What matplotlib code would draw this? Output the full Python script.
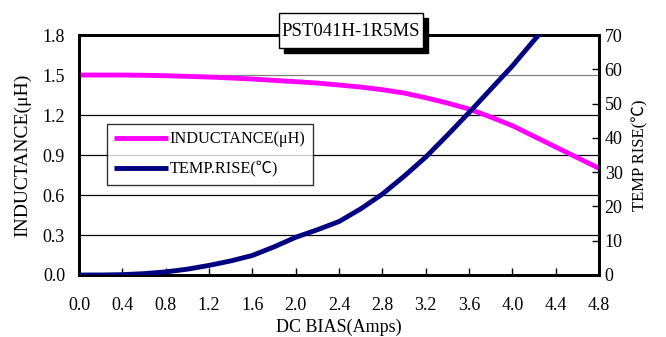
import numpy as np
import matplotlib.pyplot as plt
from matplotlib.patches import Rectangle

plt.rcParams['font.family'] = ['Liberation Serif', 'Noto Sans CJK SC']

# data
bias = [0.0, 0.2, 0.4, 0.6, 0.8, 1.0, 1.2, 1.4, 1.6, 1.8, 2.0, 2.2, 2.4,
        2.6, 2.8, 3.0, 3.2, 3.4, 3.6, 3.8, 4.0, 4.2, 4.4, 4.6, 4.8]
inductance = [1.50, 1.50, 1.50, 1.498, 1.495, 1.49, 1.485, 1.478, 1.47, 1.46,
              1.45, 1.44, 1.425, 1.41, 1.39, 1.365, 1.33, 1.29, 1.245, 1.185,
              1.12, 1.04, 0.96, 0.88, 0.80]
temp_bias = [0.0, 0.2, 0.4, 0.6, 0.8, 1.0, 1.2, 1.4, 1.6, 1.8, 2.0, 2.2, 2.4,
             2.6, 2.8, 3.0, 3.2, 3.4, 3.6, 3.8, 4.0, 4.2, 4.4]
temp_rise = [0.0, 0.0, 0.1, 0.4, 0.9, 1.7, 2.8, 4.1, 5.7, 8.2, 11.0, 13.2,
             15.6, 19.3, 23.6, 28.8, 34.4, 40.8, 47.4, 54.2, 61.0, 68.5, 75.5]
x_ticks = [0.0, 0.4, 0.8, 1.2, 1.6, 2.0, 2.4, 2.8, 3.2, 3.6, 4.0, 4.4, 4.8]
l_ticks = [0.0, 0.3, 0.6, 0.9, 1.2, 1.5, 1.8]
t_ticks = [0, 10, 20, 30, 40, 50, 60, 70]
title = 'PST041H-1R5MS'

fig = plt.figure(figsize=(6.66, 3.37), dpi=100)
ax = fig.add_axes([0.1186, 0.184, 0.781, 0.712])
ax2 = ax.twinx()

# grid lines (the 1.5 one is grey in the original)
for v in l_ticks[1:-1]:
    c = '#808080' if v == 1.5 else 'black'
    ax.axhline(v, color=c, lw=0.9, zorder=1)

l1, = ax.plot(bias, inductance, color='#ff00ff', lw=3.5, zorder=3,
              solid_capstyle='butt', solid_joinstyle='round')
l2, = ax2.plot(temp_bias, temp_rise, color='#000080', lw=3.5, zorder=3,
               solid_capstyle='butt', solid_joinstyle='round')

ax.set_xlim(0, 4.8)
ax.set_ylim(0, 1.8)
ax2.set_ylim(0, 70)
ax.set_xticks(x_ticks)
ax.set_xticklabels(['%.1f' % v for v in x_ticks])
ax.set_yticks(l_ticks)
ax.set_yticklabels(['%.1f' % v for v in l_ticks])
ax2.set_yticks(t_ticks)

ax.tick_params(axis='x', direction='in', length=5, width=1, pad=16, labelsize=13)
ax.tick_params(axis='y', length=0, pad=10, labelsize=13)
ax2.tick_params(axis='y', direction='in', length=5, width=1, pad=4, labelsize=13)

for a in (ax, ax2):
    for s in a.spines.values():
        s.set_linewidth(2)
        s.set_color('black')

ax.set_xlabel('DC BIAS(Amps)', fontsize=13, labelpad=3)
ax.set_ylabel('INDUCTANCE(μH)', fontsize=14, labelpad=8)
ax2.set_ylabel('TEMP RISE(℃)', fontsize=12, labelpad=7)

leg = ax2.legend([l1, l2], ['INDUCTANCE(μH)', 'TEMP.RISE(℃)'],
                 loc='upper left', bbox_to_anchor=(0.054, 0.629),
                 handlelength=3.3, handletextpad=0.1, labelspacing=0.85,
                 borderpad=0.45, fancybox=False, frameon=True, borderaxespad=0,
                 prop={'family': ['Liberation Serif', 'Noto Sans CJK SC'], 'size': 11.7})
leg.get_frame().set_edgecolor('black')
leg.get_frame().set_linewidth(1)
leg.set_zorder(10)

# title box with drop shadow
W, H = 666.0, 337.0
fig.patches.append(Rectangle((284 / W, 1 - 53 / H), 144 / W, 35 / H,
                             transform=fig.transFigure, fc='black', ec='black',
                             zorder=5))
fig.patches.append(Rectangle((279 / W, 1 - 48 / H), 144 / W, 35 / H,
                             transform=fig.transFigure, fc='white', ec='black',
                             lw=1, zorder=6))
fig.text(351 / W, 1 - 31 / H, title, ha='center', va='center', fontsize=13.5,
         zorder=7)

plt.savefig('out.png', dpi=100)
